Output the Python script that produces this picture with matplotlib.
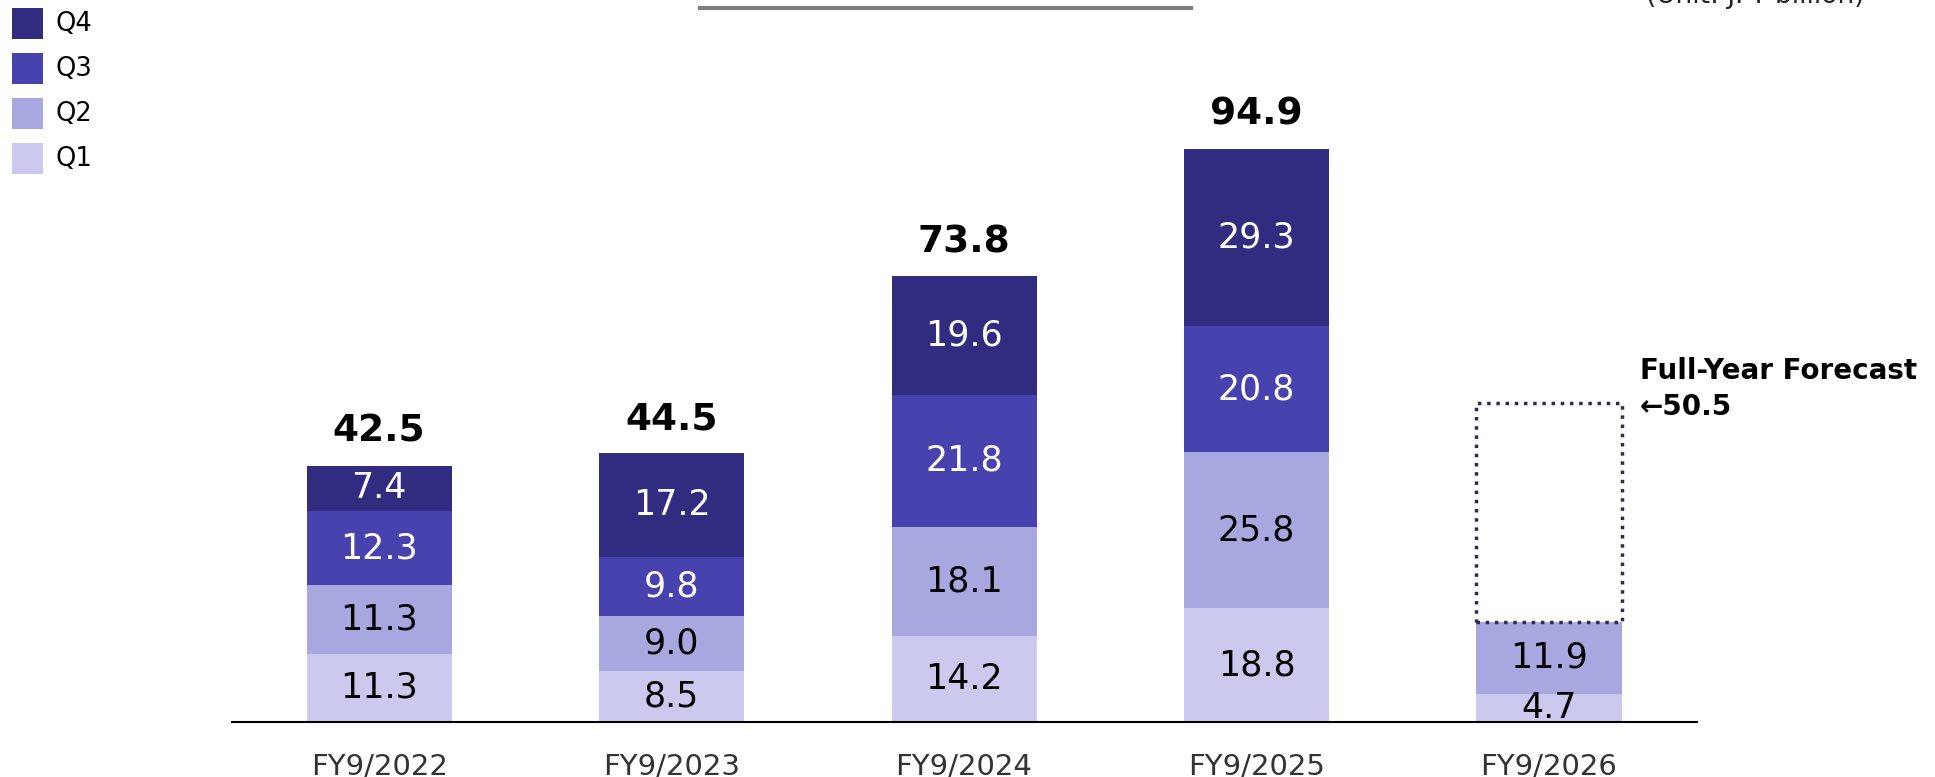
import matplotlib.pyplot as plt
from matplotlib.patches import Rectangle
import numpy as np

years = ['FY9/2022', 'FY9/2023', 'FY9/2024', 'FY9/2025', 'FY9/2026']
q1 = [11.3, 8.5, 14.2, 18.8, 4.7]
q2 = [11.3, 9.0, 18.1, 25.8, 11.9]
q3 = [12.3, 9.8, 21.8, 20.8, 0]
q4 = [7.4, 17.2, 19.6, 29.3, 0]
totals = [42.5, 44.5, 73.8, 94.9]
forecast = 50.5
forecast_box_top = 52.7   # as drawn in the picture

quarters = ['Q1', 'Q2', 'Q3', 'Q4']
colors = ['#cbc9ed', '#a9a7e0', '#4842af', '#312c80']
text_colors = ['black', 'black', 'white', 'white']

W, H = 1935, 777
fig = plt.figure(figsize=(W / 100, H / 100), dpi=100)
ax = fig.add_axes([232 / W, 55 / H, 1465 / W, 722 / H])
ax.set_xlim(-0.503, 4.506)
ax.set_ylim(0, 119.3)

x = np.arange(len(years))
bw = 0.496
bottom = np.zeros(len(years))
for vals, c, tc in zip([q1, q2, q3, q4], colors, text_colors):
    vals = np.array(vals)
    ax.bar(x, vals, bw, bottom=bottom, color=c, linewidth=0)
    for i, v in enumerate(vals):
        if v > 0:
            ax.text(x[i], bottom[i] + v / 2, f'{v:.1f}', ha='center', va='center',
                    color=tc, fontsize=25)
    bottom += vals

for i, t in enumerate(totals):
    ax.annotate(f'{t:.1f}', (x[i], t), xytext=(0, 16.5), textcoords='offset points',
                ha='center', va='baseline', fontsize=27, fontweight='bold')

# forecast outline
base = q1[4] + q2[4]
ax.bar(x[4], forecast_box_top - base, bw, bottom=base, fill=False,
       edgecolor='#2b2b55', linestyle=':', linewidth=2.5)
ax.text(4.31, forecast_box_top + 5.3, 'Full-Year Forecast', fontsize=20,
        fontweight='bold', va='center', ha='left')
ax.text(4.31, forecast_box_top - 0.6, f'\u2190{forecast}', fontsize=20,
        fontweight='bold', va='center', ha='left')

ax.set_xticks(x)
ax.set_xticklabels(years, fontsize=21, color='#333333')
ax.tick_params(axis='x', length=0, pad=22)
ax.set_yticks([])
for s in ['top', 'left', 'right']:
    ax.spines[s].set_visible(False)
ax.spines['bottom'].set_linewidth(1.5)

# legend
for k, (q, c) in enumerate(zip(quarters[::-1], colors[::-1])):
    y0 = 8 + k * 45
    fig.add_artist(Rectangle((12 / W, 1 - (y0 + 31) / H), 31 / W, 31 / H,
                             transform=fig.transFigure, color=c, linewidth=0))
    fig.text(55 / W, 1 - (y0 + 16) / H, q, fontsize=18.5, va='center', ha='left')

# cut-off header pieces
fig.add_artist(plt.Line2D([700 / W, 1191 / W], [1 - 8 / H, 1 - 8 / H],
                          transform=fig.transFigure, color='#808080', linewidth=3))
fig.text(1755 / W, 1 - 3 / H, '(Unit: JPY billion)', fontsize=19, ha='center',
         va='baseline', color='#222222')

fig.savefig('out.png', dpi=100)
